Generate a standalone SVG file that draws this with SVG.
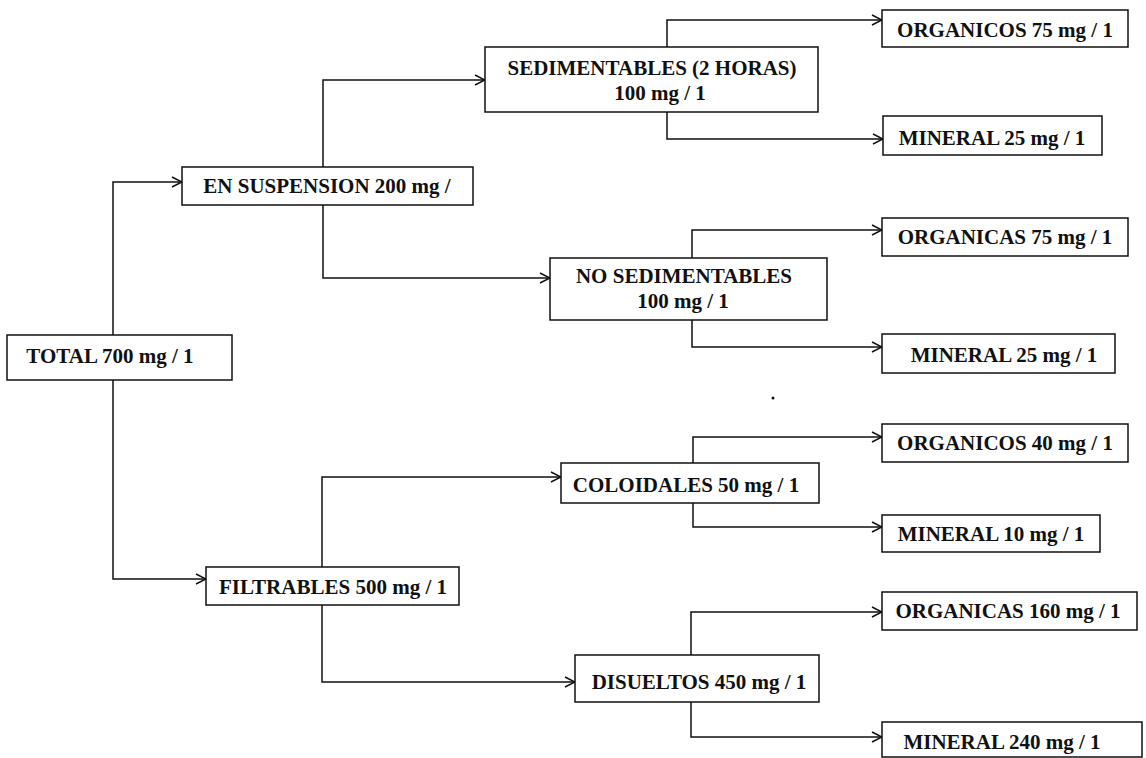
<svg xmlns="http://www.w3.org/2000/svg" width="1146" height="758" viewBox="0 0 1146 758">
<style>
.box{fill:#fff;stroke:#111;stroke-width:1.5}
.lbl{font-family:"Liberation Serif","Times New Roman",serif;font-weight:bold;font-size:21px;fill:#111;text-anchor:middle}
.con{fill:none;stroke:#111;stroke-width:1.5}
</style>
<defs>
<marker id="arr" viewBox="0 0 12 12" refX="11" refY="6" markerWidth="12" markerHeight="12" markerUnits="userSpaceOnUse" orient="auto">
<path d="M1,1 L11,6 L1,11" fill="none" stroke="#111" stroke-width="1.5"/>
</marker>
</defs>
<rect width="1146" height="758" fill="#fff"/>
<g id="connectors">
<path class="con" marker-end="url(#arr)" d="M113,335 V182 H182"/>
<path class="con" marker-end="url(#arr)" d="M113,380 V579 H206"/>
<path class="con" marker-end="url(#arr)" d="M323,167 V80 H485"/>
<path class="con" marker-end="url(#arr)" d="M323,205 V278 H550"/>
<path class="con" marker-end="url(#arr)" d="M667,47 V20 H882"/>
<path class="con" marker-end="url(#arr)" d="M667,112 V139 H883"/>
<path class="con" marker-end="url(#arr)" d="M692,258 V230 H882"/>
<path class="con" marker-end="url(#arr)" d="M692,320 V347 H882"/>
<path class="con" marker-end="url(#arr)" d="M322,567 V477 H561"/>
<path class="con" marker-end="url(#arr)" d="M322,605 V682 H575"/>
<path class="con" marker-end="url(#arr)" d="M693,463 V437 H882"/>
<path class="con" marker-end="url(#arr)" d="M693,503 V527 H882"/>
<path class="con" marker-end="url(#arr)" d="M691,655 V612 H882"/>
<path class="con" marker-end="url(#arr)" d="M691,702 V737 H882"/>
</g>
<g id="total"><rect class="box" x="7" y="335" width="225" height="45"/><text class="lbl" x="110" y="363">TOTAL 700 mg / 1</text></g>
<g id="suspension"><rect class="box" x="182" y="167" width="291" height="38"/><text class="lbl" x="327" y="193">EN SUSPENSION 200 mg /</text></g>
<g id="filtrables"><rect class="box" x="206" y="567" width="253" height="38"/><text class="lbl" x="333" y="594">FILTRABLES 500 mg / 1</text></g>
<g id="sedimentables"><rect class="box" x="485" y="47" width="333" height="65"/><text class="lbl" x="652" y="75">SEDIMENTABLES (2 HORAS)</text><text class="lbl" x="660" y="100">100 mg / 1</text></g>
<g id="nosedimentables"><rect class="box" x="550" y="258" width="277" height="62"/><text class="lbl" x="684" y="283">NO SEDIMENTABLES</text><text class="lbl" x="683" y="308">100 mg / 1</text></g>
<g id="coloidales"><rect class="box" x="561" y="463" width="258" height="40"/><text class="lbl" x="686" y="492">COLOIDALES 50 mg / 1</text></g>
<g id="disueltos"><rect class="box" x="575" y="655" width="244" height="47"/><text class="lbl" x="699" y="689">DISUELTOS 450 mg / 1</text></g>
<g id="organicos75"><rect class="box" x="882" y="10" width="246" height="37"/><text class="lbl" x="1005" y="37">ORGANICOS 75 mg / 1</text></g>
<g id="mineral25a"><rect class="box" x="883" y="116" width="219" height="39"/><text class="lbl" x="992" y="145">MINERAL 25 mg / 1</text></g>
<g id="organicas75"><rect class="box" x="882" y="218" width="246" height="38"/><text class="lbl" x="1005" y="244">ORGANICAS 75 mg / 1</text></g>
<g id="mineral25b"><rect class="box" x="882" y="334" width="233" height="39"/><text class="lbl" x="1004" y="362">MINERAL 25 mg / 1</text></g>
<g id="organicos40"><rect class="box" x="882" y="424" width="246" height="38"/><text class="lbl" x="1005" y="450">ORGANICOS 40 mg / 1</text></g>
<g id="mineral10"><rect class="box" x="882" y="515" width="218" height="37"/><text class="lbl" x="991" y="541">MINERAL 10 mg / 1</text></g>
<g id="organicas160"><rect class="box" x="882" y="592" width="255" height="38"/><text class="lbl" x="1008" y="618">ORGANICAS 160 mg / 1</text></g>
<g id="mineral240"><rect class="box" x="882" y="722" width="260" height="35"/><text class="lbl" x="1002" y="749">MINERAL 240 mg / 1</text></g>
<circle cx="773" cy="398" r="1.5" fill="#111"/>
</svg>
